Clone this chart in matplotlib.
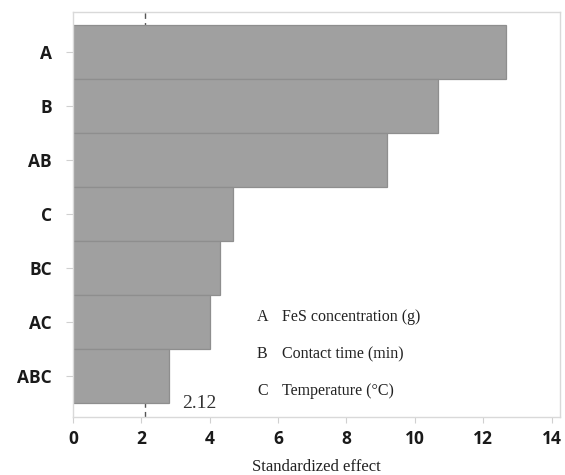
import matplotlib.pyplot as plt

# effect terms, top to bottom
terms = ['A', 'B', 'AB', 'C', 'BC', 'AC', 'ABC']
effects = [12.66, 10.67, 9.18, 4.68, 4.30, 4.00, 2.81]
ref_value = 2.12
factor_keys = ['A', 'B', 'C']
factor_names = ['FeS concentration (g)', 'Contact time (min)', 'Temperature (°C)']
xticks = [0, 2, 4, 6, 8, 10, 12, 14]

fig = plt.figure(figsize=(5.65, 4.75), dpi=100)
ax = fig.add_axes([0.129, 0.122, 0.862, 0.853])

# reference line sits behind the bars
ax.axvline(ref_value, color='#555555', lw=1.0, ls=(0, (4, 3)), zorder=1)
ax.barh(range(len(terms)), effects, height=1.0, color='#a0a0a0',
        edgecolor='#8e8e8e', linewidth=0.9, zorder=2)

ax.set_ylim(6.77, -0.75)
ax.set_xlim(0, 14.24)
ax.set_yticks(range(len(terms)))
ax.set_yticklabels(terms)
ax.set_xticks(xticks)
ax.set_xticklabels([str(t) for t in xticks])

for lab in ax.get_xticklabels() + ax.get_yticklabels():
    lab.set_family('Open Sans')
    lab.set_fontweight('bold')
    lab.set_fontsize(12.5)
    lab.set_color('#1a1a1a')

ax.tick_params(axis='both', length=4, width=0.8, color='#d0d0d0')
ax.tick_params(axis='y', length=5, pad=10)
ax.tick_params(axis='x', pad=5)
for sp in ax.spines.values():
    sp.set_color('#d9d9d9')
    sp.set_linewidth(1.0)

ax.set_xlabel('Standardized effect', family='Liberation Serif', fontsize=12,
              color='#222222', labelpad=8)

ax.text(3.19, 6.52, '%.2f' % ref_value, family='Liberation Serif',
        fontsize=14, color='#333333', ha='left', va='center')

# factor legend
for i, (k, name) in enumerate(zip(factor_keys, factor_names)):
    y = 4.92 + i * 0.68
    ax.text(5.38, y, k, family='Liberation Serif', fontsize=11.5,
            color='#222222', va='center', ha='left')
    ax.text(6.12, y, name, family='Liberation Serif', fontsize=11.5,
            color='#222222', va='center', ha='left')

plt.savefig('out.png', dpi=100)
